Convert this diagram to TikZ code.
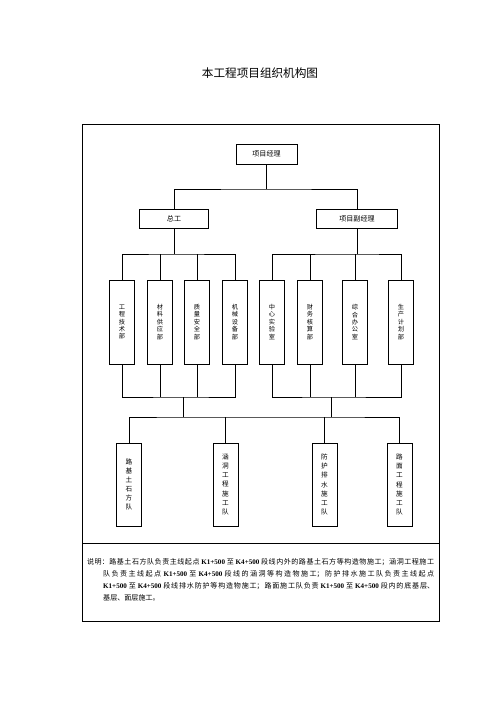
\documentclass[tikz,border=0pt]{standalone}
\usepackage{fontspec}
\setmainfont{Noto Sans CJK SC}
\newfontfamily\latinbf{Liberation Serif}
\XeTeXlinebreaklocale "zh"
\XeTeXlinebreakskip=0pt plus 2pt
\newcommand\stake[1]{{\latinbf\bfseries #1}}
\tikzset{
  orgbox/.style={draw,line width=0.9pt,inner sep=0pt,font=\fontsize{8.5}{9}\selectfont},
  deptbox/.style={orgbox,minimum width=10.6mm,minimum height=35.6mm,align=center,font=\fontsize{7.5}{9}\selectfont},
  teambox/.style={orgbox,minimum width=10.6mm,minimum height=35.2mm,align=center,font=\fontsize{8}{11}\selectfont},
  wire/.style={line width=0.7pt},
}
\begin{document}
\begin{tikzpicture}[x=0.4234mm,y=-0.4234mm]
\useasboundingbox (0,0) rectangle (496,702);
\node[font=\fontsize{14}{14}\selectfont] (title) at (260,73) {本工程项目组织机构图};
\draw[line width=0.9pt] (82,124) rectangle (439,621);
\draw[line width=0.9pt] (82,543) -- (439,543);
% top levels
\node[orgbox,minimum width=25.8mm,minimum height=8.5mm] (pm) at (266.5,154) {项目经理};
\node[orgbox,minimum width=29.2mm,minimum height=8mm] (zg) at (174,218.5) {总工};
\node[orgbox,minimum width=34.3mm,minimum height=8mm] (fjl) at (357,218.5) {项目副经理};
% departments
\node[deptbox] (d1) at (122,322) {工\\程\\技\\术\\部};
\node[deptbox] (d2) at (160,322) {材\\料\\供\\应\\部};
\node[deptbox] (d3) at (197,322) {质\\量\\安\\全\\部};
\node[deptbox] (d4) at (235,322) {机\\械\\设\\备\\部};
\node[deptbox] (d5) at (272,322) {中\\心\\实\\验\\室};
\node[deptbox] (d6) at (310,322) {财\\务\\核\\算\\部};
\node[deptbox] (d7) at (355,322) {综\\合\\办\\公\\室};
\node[deptbox] (d8) at (401,322) {生\\产\\计\\划\\部};
% teams
\node[teambox] (t1) at (129,484.5) {路\\基\\土\\石\\方\\队};
\node[teambox] (t2) at (225.5,484.5) {涵\\洞\\工\\程\\施\\工\\队};
\node[teambox] (t3) at (324.5,484.5) {防\\护\\排\\水\\施\\工\\队};
\node[teambox] (t4) at (399.5,484.5) {路\\面\\工\\程\\施\\工\\队};
% joints
\coordinate (j0) at (266.5,189);
\coordinate (ja) at (174,254);
\coordinate (jb) at (357,254);
\coordinate (jc) at (183,397);
\coordinate (jd) at (331,397);
\coordinate (je) at (183,417);
\coordinate (jf) at (331,417);
\draw[wire] (pm) -- (j0);
\draw[wire] (zg.north) |- (j0) -| (fjl.north);
\draw[wire] (zg) -- (ja);
\draw[wire] (fjl) -- (jb);
\draw[wire] (d1.north) |- (ja) -| (d4.north);
\draw[wire] (d5.north) |- (jb) -| (d8.north);
\draw[wire] (d2.north) -- (d2.north |- ja);
\draw[wire] (d3.north) -- (d3.north |- ja);
\draw[wire] (d6.north) -- (d6.north |- jb);
\draw[wire] (d7.north) -- (d7.north |- jb);
\draw[wire] (d1.south) |- (jc) -| (d4.south);
\draw[wire] (d5.south) |- (jd) -| (d8.south);
\draw[wire] (d2.south) -- (d2.south |- jc);
\draw[wire] (d3.south) -- (d3.south |- jc);
\draw[wire] (d6.south) -- (d6.south |- jd);
\draw[wire] (d7.south) -- (d7.south |- jd);
\draw[wire] (jc) -- (je);
\draw[wire] (jd) -- (jf);
\draw[wire] (t1.north) |- (je) -- (jf) -| (t4.north);
\draw[wire] (t2.north) -- (t2.north |- je);
\draw[wire] (t3.north) -- (t3.north |- je);
% note
\node[anchor=north west,inner sep=0pt,text width=146.9mm,align=justify,font=\fontsize{8.5}{14.4}\selectfont] (note) at (87,558)
{\noindent\hangindent=6.8mm\hangafter=1 说明：路基土石方队负责主线起点 \stake{K1+500} 至 \stake{K4+500} 段线内外的路基土石方等构造物施工；涵洞工程施工\linebreak
队负责主线起点 \stake{K1+500} 至 \stake{K4+500} 段线的涵洞等构造物施工；防护排水施工队负责主线起点\linebreak
\stake{K1+500} 至 \stake{K4+500} 段线排水防护等构造物施工；路面施工队负责 \stake{K1+500} 至 \stake{K4+500} 段内的底基层、\linebreak
基层、面层施工。\par};
\end{tikzpicture}
\end{document}
